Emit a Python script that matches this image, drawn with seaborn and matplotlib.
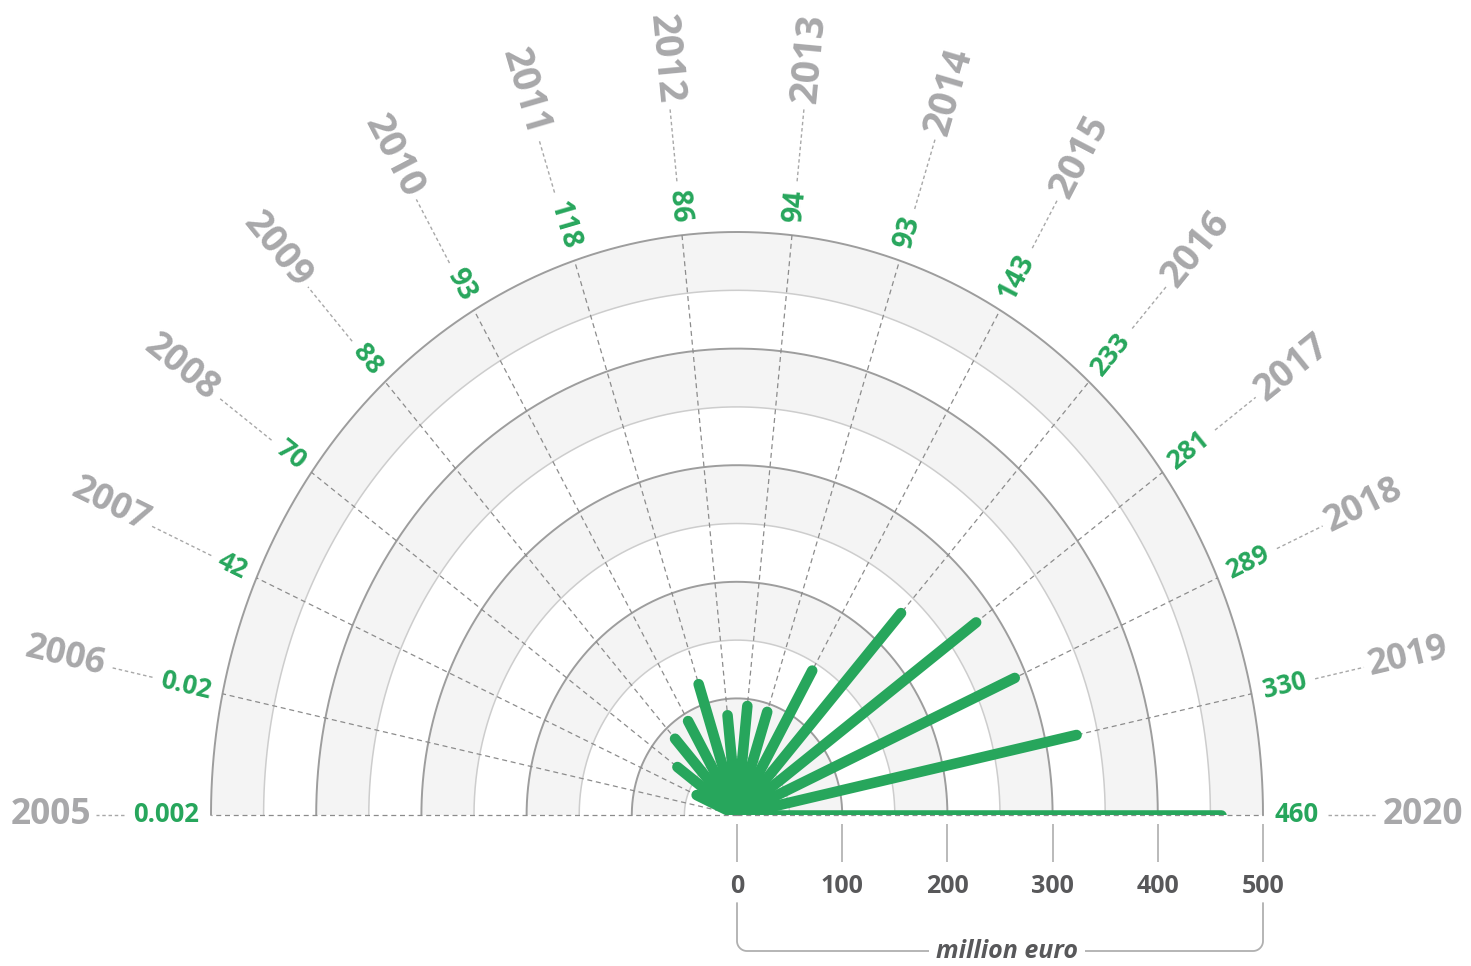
import numpy as np
import matplotlib
matplotlib.use("Agg")
import matplotlib.pyplot as plt
import seaborn as sns

# ---------------- data ----------------
years = ["2005", "2006", "2007", "2008", "2009", "2010", "2011", "2012",
         "2013", "2014", "2015", "2016", "2017", "2018", "2019", "2020"]
values = [0.002, 0.02, 42, 70, 88, 93, 118, 86, 94, 93, 143, 233, 281, 289, 330, 460]
value_labels = ["0.002", "0.02", "42", "70", "88", "93", "118", "86",
                "94", "93", "143", "233", "281", "289", "330", "460"]
axis_ticks = [0, 100, 200, 300, 400, 500]
axis_title = "million euro"

# ---------------- style ----------------
sns.set_theme(style="white")
plt.rcParams["font.family"] = ["Open Sans", "DejaVu Sans"]

GREEN = "#27a65c"
YEAR_GREY = "#a8a8aa"
DARK_GREY = "#58585a"
BAND = "#f4f4f4"
MAJOR = "#9d9d9d"
MINOR = "#cdcdcd"

W, H = 1471, 966
fig = plt.figure(figsize=(W / 100, H / 100), dpi=100)
fig.patch.set_facecolor("white")

# layout in pixels (from top-left)
cx, cy = 737.0, 815.0      # centre of the fan
rx, ry = 526.0, 583.0      # pixel radii of the r = 500 ring (slightly elliptical)
RMAX = 500

# polar wedge 0..180 deg is padded to a square bbox: half-disk occupies
# x in [0,1], y in [0.25, 0.75] of the axes box
ax_w, ax_h = 2 * rx, 2 * ry
left_px = cx - rx
bottom_px = cy + 0.25 * ax_h
ax = fig.add_axes([left_px / W, (H - bottom_px) / H, ax_w / W, ax_h / H],
                  projection="polar")
ax.set_aspect("auto")
ax.set_thetamin(0)
ax.set_thetamax(180)
ax.set_rlim(0, RMAX)
ax.grid(False)
ax.set_xticks([])
ax.set_yticks([])
ax.set_axis_off()

angles = np.linspace(np.pi, 0, len(years))

# alternating light bands
for lo in range(50, RMAX, 100):
    ax.bar(np.pi / 2, 50, width=np.pi, bottom=lo, color=BAND,
           edgecolor="none", linewidth=0, zorder=0.5)

# ring lines
th = np.linspace(0, np.pi, 500)
for r in range(50, RMAX, 100):
    ax.plot(th, np.full_like(th, r), color=MINOR, lw=1.1, zorder=1)
for r in range(100, RMAX + 1, 100):
    ax.plot(th, np.full_like(th, r), color=MAJOR, lw=1.4, zorder=1.1,
            clip_on=False)

# inner dashed spokes
for t in angles:
    ax.plot([t, t], [0, RMAX], color="#8c8c8c", lw=0.9, ls=(0, (4, 3)),
            zorder=1.5, clip_on=False)

# green bars
bars = ax.vlines(angles, 0, values, colors=GREEN, linewidth=7.6, zorder=3)
bars.set_capstyle("round")

# labels
R_VAL = 511
R_YEAR = 614
base_scale = rx / RMAX
for t, yr, lab in zip(angles, years, value_labels):
    phi = np.degrees(np.arctan2(ry * np.sin(t), rx * np.cos(t)))
    scale = np.hypot(rx * np.cos(t), ry * np.sin(t)) / RMAX  # px per unit
    stretch = scale / base_scale
    if t > np.pi / 2:
        rot, ha = phi - 180, "right"
    else:
        rot, ha = phi, "left"
    ax.text(t, R_VAL, lab, rotation=rot, rotation_mode="anchor", ha=ha,
            va="center", color=GREEN, fontsize=18.5 * stretch, fontweight="bold",
            clip_on=False, zorder=4)
    ax.text(t, R_YEAR, yr, rotation=rot, rotation_mode="anchor", ha=ha,
            va="center", color=YEAR_GREY, fontsize=25.5 * stretch,
            fontweight="bold", clip_on=False, zorder=4)
    n_dig = sum(c.isdigit() for c in lab)
    n_dot = lab.count(".")
    lab_px = (n_dig * 15.5 + n_dot * 6.5) * stretch
    r0 = R_VAL + (lab_px + 7) / scale
    r1 = R_YEAR - 5 / scale
    ax.plot([t, t], [r0, r1], color="#a8a8a8", lw=1.0, ls=(0, (2.5, 2.0)),
            clip_on=False, zorder=1)

# ---------------- value axis below ----------------
axis_y_px = 824
ax2 = fig.add_axes([cx / W, (H - axis_y_px) / H, rx / W, 0.0005])
ax2.set_xlim(0, RMAX)
ax2.set_yticks([])
for s in ax2.spines.values():
    s.set_visible(False)
ax2.patch.set_alpha(0)
ax2.set_xticks(axis_ticks)
ax2.set_xticklabels([str(v) for v in axis_ticks])
ax2.tick_params(axis="x", direction="out", length=27, width=1.3,
                color="#b4b4b4", pad=9, labelsize=18, labelcolor=DARK_GREY,
                bottom=True)
for lbl in ax2.get_xticklabels():
    lbl.set_fontweight("bold")

# bracket with title
top_px, bot_px = 903, 951
ax3 = fig.add_axes([cx / W, (H - bot_px - 4) / H, rx / W, (bot_px + 4 - top_px) / H])
ax3.set_xlim(0, RMAX)
ax3.set_ylim(-4, bot_px - top_px)
ax3.axis("off")
yb = 0.0
ytop = bot_px - top_px
rad_y = 10.0
rad_x = 10.0 * RMAX / rx
a = np.linspace(np.pi, 1.5 * np.pi, 20)
left_arc_x = rad_x + rad_x * np.cos(a)
left_arc_y = yb + rad_y + rad_y * np.sin(a)
bx = np.concatenate([[0], left_arc_x, RMAX - left_arc_x[::-1], [RMAX]])
by = np.concatenate([[ytop], left_arc_y, left_arc_y[::-1], [ytop]])
ax3.plot(bx, by, color="#b0b0b0", lw=1.3, clip_on=False)
ax3.text(RMAX / 2 + 7, yb, axis_title, ha="center", va="center",
         fontsize=18, fontweight="bold", fontstyle="italic", color=DARK_GREY,
         bbox=dict(facecolor="white", edgecolor="none", pad=5))

fig.savefig("out.png", dpi=100, facecolor="white")
